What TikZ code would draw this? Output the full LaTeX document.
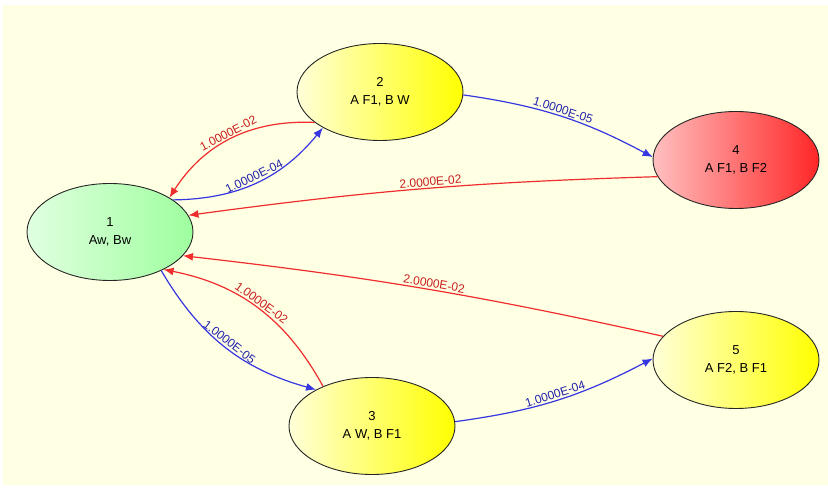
\documentclass[tikz,border=0pt]{standalone}
\usepackage{fontspec}
\setmainfont{Liberation Sans}
\usetikzlibrary{shapes.geometric, arrows.meta}

\definecolor{paper}{RGB}{255,255,228}
\definecolor{linered}{RGB}{240,45,45}
\definecolor{lineblue}{RGB}{55,55,225}
\definecolor{txtred}{RGB}{200,30,30}
\definecolor{txtblue}{RGB}{35,35,170}

\tikzstyle{every node} = [font=\fontsize{13}{18}\selectfont]
\tikzstyle{st} = [ellipse, draw=black!85, line width=0.9pt, minimum width=166pt, minimum height=97pt, inner sep=0pt, align=center]
\tikzstyle{rate} = [sloped, above, inner sep=1.5pt, font=\fontsize{12}{12}\selectfont]
\tikzstyle{tored} = [-{Latex[length=10pt,width=8pt]}, line width=1.2pt, linered]
\tikzstyle{toblue} = [-{Latex[length=10pt,width=8pt]}, line width=1.2pt, lineblue]

\begin{document}
\begin{tikzpicture}[x=1pt, y=1pt]
    \useasboundingbox (0,0) rectangle (828,490);
    \fill[white] (0,0) rectangle (828,490);
    \fill[paper] (3,5) rectangle (828,485);

    \node[st, left color=green!12, right color=green!38] (n1) at (110,258) {1\\Aw, Bw};
    \node[st, left color=yellow!15, right color=yellow] (n2) at (380,398) {2\\A F1, B W};
    \node[st, left color=yellow!15, right color=yellow] (n3) at (372,64) {3\\A W, B F1};
    \node[st, left color=red!25, right color=red!85] (n4) at (736,330) {4\\A F1, B F2};
    \node[st, left color=yellow!15, right color=yellow] (n5) at (736,130) {5\\A F2, B F1};

    \draw[tored] (n2.205) to[bend right=30] node[rate, pos=0.5, text=txtred] {1.0000E-02} (n1.30);
    \draw[toblue] (n1.27) to[bend right=25] node[rate, pos=0.5, text=txtblue] {1.0000E-04} (n2.212);
    \draw[toblue] (n2.-2) to[bend left=10] node[rate, pos=0.5, text=txtblue] {1.0000E-05} (n4.178);
    \draw[tored] (n4.192) to[bend right=3] node[rate, pos=0.48, text=txtred] {2.0000E-02} (n1.12);
    \draw[tored] (n5.162) to[bend right=3] node[rate, pos=0.48, text=txtred] {2.0000E-02} (n1.-18);
    \draw[tored] (n3.141) to[bend right=25] node[rate, pos=0.5, text=txtred] {1.0000E-02} (n1.-35);
    \draw[toblue] (n1.-37) to[bend right=22] node[rate, pos=0.5, text=txtblue] {1.0000E-05} (n3.147);
    \draw[toblue] (n3.3) to[bend right=10] node[rate, pos=0.5, text=txtblue] {1.0000E-04} (n5.179);
\end{tikzpicture}
\end{document}
